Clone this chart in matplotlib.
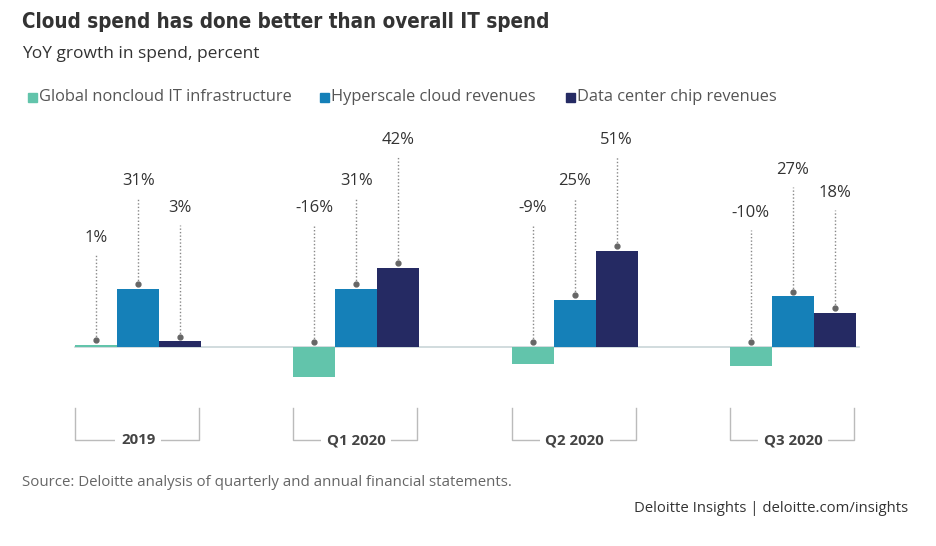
import matplotlib.pyplot as plt
import numpy as np
from matplotlib import font_manager as fm

groups = ['2019', 'Q1 2020', 'Q2 2020', 'Q3 2020']
series = ['Global noncloud IT infrastructure', 'Hyperscale cloud revenues', 'Data center chip revenues']
noncloud = [1, -16, -9, -10]
hyperscale = [31, 31, 25, 27]
chips = [3, 42, 51, 18]

# where each value label sits (data units, above the zero line)
label_y = [[58, 74, 74, 71],
           [88, 88, 88, 94],
           [74, 110, 110, 82]]

colors = ['#62C4AB', '#1580B8', '#252A63']

# look for a bold condensed face for the title
cond = [f for f in fm.fontManager.ttflist
        if f.stretch in ('condensed', 'semi-condensed', 'extra-condensed', 'narrow')
        and f.weight in ('bold', 700, 600, 'semibold')]
if cond:
    title_font = dict(fontproperties=fm.FontProperties(fname=cond[0].fname, size=14.8))
else:
    title_font = dict(fontsize=15.3, fontweight='bold')

plt.rcParams['font.family'] = ['Open Sans', 'DejaVu Sans']

fig = plt.figure(figsize=(9.37, 5.46), dpi=100)
ax = fig.add_axes([60 / 937, 1 - 460 / 546, 820 / 937, 340 / 546])
ax.set_xlim(-0.358, 3.399)
ax.set_ylim(-60.1, 120.7)
ax.axis('off')

w = 42 / 218
x = np.arange(len(groups))
vals = [noncloud, hyperscale, chips]

ax.plot([x[0] - 1.5 * w, x[-1] + 1.5 * w + 0.015], [0, 0], color='#c9d6d8', lw=1.2, zorder=1)

for i, v in enumerate(vals):
    xs = x + (i - 1) * w
    ax.bar(xs, v, width=w, color=colors[i], zorder=2)
    for j, (xx, val) in enumerate(zip(xs, v)):
        dot = max(val, 0) + 2.5
        ly = label_y[i][j]
        ax.plot([xx, xx], [dot, ly - 9], color='#888888', ls=(0, (1, 1.5)), lw=1, zorder=3)
        ax.plot(xx, dot, 'o', color='#666666', ms=3.5, zorder=4)
        ax.text(xx, ly, f'{val}%', ha='center', va='center', fontsize=12, color='#333333')

# group brackets
for j, g in enumerate(groups):
    l, r = x[j] - 1.5 * w, x[j] + 1.5 * w - 0.01
    ax.plot([l, l, r, r], [-32.4, -49.5, -49.5, -32.4], color='#bbbbbb', lw=1, zorder=1)
    ax.text(x[j], -49.5, g, ha='center', va='center', fontsize=10.8, fontweight='bold',
            color='#444444', bbox=dict(facecolor='white', edgecolor='none', pad=4), zorder=2)

fig.text(22 / 937, 1 - 22 / 546, 'Cloud spend has done better than overall IT spend',
         color='#333333', va='center', **title_font)
fig.text(22 / 937, 1 - 54 / 546, 'YoY growth in spend, percent', fontsize=12.5,
         color='#333333', va='center')

leg_x = [28, 320, 566]
for k, s in enumerate(series):
    fig.patches.append(plt.Rectangle((leg_x[k] / 937, 1 - 102 / 546), 9 / 937, 9 / 546,
                                     color=colors[k], transform=fig.transFigure))
    fig.text((leg_x[k] + 11) / 937, 1 - 97 / 546, s, fontsize=11.8, color='#555555', va='center')

fig.text(22 / 937, 1 - 483 / 546, 'Source: Deloitte analysis of quarterly and annual financial statements.',
         fontsize=10.8, color='#666666', va='center')
fig.text(908 / 937, 1 - 508 / 546, 'Deloitte Insights | deloitte.com/insights',
         fontsize=10.7, color='#333333', va='center', ha='right')

fig.savefig('out.png', dpi=100)
